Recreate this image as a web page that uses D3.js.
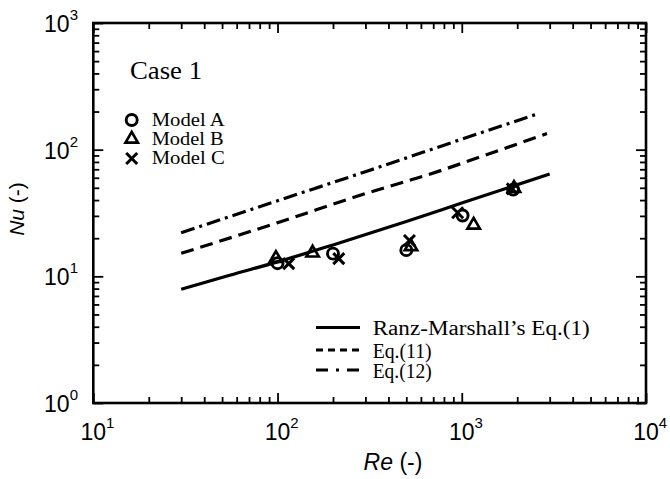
<!DOCTYPE html>
<html><head><meta charset="utf-8">
<script src="https://cdn.jsdelivr.net/npm/d3@7"></script>
<style>body{margin:0;background:#fff}</style>
</head><body><svg id="c" width="670" height="479"></svg>
<script>
// ---- data ----
const reMajor = [10, 100, 1000, 10000];
const reExp = ["1", "2", "3", "4"];
const nuMajor = [1, 10, 100, 1000];
const nuExp = ["0", "1", "2", "3"];

const ranzRe = [30, 55, 100, 200, 500, 1000, 3000];
const ranzNu = [7.9, 10.2, 13.0, 17.7, 27.1, 37.9, 64.2];
const eq11Re = [30, 100, 300, 760, 1000, 2900];
const eq11Nu = [15.2, 26.5, 45, 68, 78, 134];
const eq12Re = [30, 100, 300, 1000, 2530];
const eq12Nu = [22.1, 39.5, 67, 121, 190];

const modelARe = [100, 200, 500, 1010, 1900];
const modelANu = [12.7, 15.1, 16.1, 30.2, 48.4];
const modelBRe = [98, 155, 530, 1160, 1920];
const modelBNu = [13.9, 15.3, 17.2, 25.4, 49.6];
const modelCRe = [115, 215, 520, 950, 1880];
const modelCNu = [12.6, 13.8, 19.2, 31.8, 49];

const legendMarkers = ["Model A", "Model B", "Model C"];
const legendLines = ["Ranz-Marshall\u2019s Eq.(1)", "Eq.(11)", "Eq.(12)"];

// ---- layout ----
const L = 93.3, R = 646, T = 23, B = 403;
const svg = d3.select("#c");
const x = d3.scaleLog().domain([10, 1e4]).range([L, R]);
const y = d3.scaleLog().domain([1, 1000]).range([B, T]);
const sans = "'Liberation Sans', Arial, sans-serif";
const serif = "'Liberation Serif', 'Times New Roman', serif";

// ---- ticks ----
const xMinor = x.ticks().filter(v => !reMajor.includes(v));
const yMinor = y.ticks().filter(v => !nuMajor.includes(v));
function styleAxis(g){ g.select(".domain").remove(); g.selectAll(".tick line").attr("stroke","#000").attr("stroke-width",1.8); g.selectAll(".tick text").remove(); }
const axes = [
  [d3.axisBottom(x), `translate(0,${B})`, reMajor, xMinor],
  [d3.axisTop(x), `translate(0,${T})`, reMajor, xMinor],
  [d3.axisLeft(y), `translate(${L},0)`, nuMajor, yMinor],
  [d3.axisRight(y), `translate(${R},0)`, nuMajor, yMinor]
];
axes.forEach(([ax, tr, maj, min]) => {
  svg.append("g").attr("transform", tr).call(ax.tickValues(maj).tickSize(-10).tickFormat("")).call(styleAxis);
  svg.append("g").attr("transform", tr).call(ax.tickValues(min).tickSize(-6).tickFormat("")).call(styleAxis);
});

// frame
svg.append("rect").attr("x", L).attr("y", T).attr("width", R - L).attr("height", B - T)
  .attr("fill", "none").attr("stroke", "#000").attr("stroke-width", 2.6);

// tick labels
reMajor.forEach((v, i) => {
  const t = svg.append("text").attr("x", x(v) - 12.8).attr("y", 440)
    .attr("font-family", sans).attr("font-size", 23).text("10");
  t.append("tspan").attr("font-size", 15).attr("dy", -12).text(reExp[i]);
});
nuMajor.forEach((v, i) => {
  const t = svg.append("text").attr("x", 78).attr("y", y(v) + 9).attr("text-anchor", "end")
    .attr("font-family", sans).attr("font-size", 23).text("10");
  t.append("tspan").attr("font-size", 15).attr("dy", -12).text(nuExp[i]);
});

// axis titles
const xt = svg.append("text").attr("x", 393).attr("y", 470).attr("text-anchor", "middle")
  .attr("font-family", sans).attr("font-size", 23);
xt.append("tspan").attr("font-style", "italic").text("Re");
xt.append("tspan").text(" (-)");
const yt = svg.append("text").attr("transform", "translate(24,209) rotate(-90)").attr("text-anchor", "middle")
  .attr("font-family", sans).attr("font-size", 21);
yt.append("tspan").attr("font-style", "italic").text("Nu");
yt.append("tspan").text(" (-)");

// ---- lines ----
const line = d3.line().x(d => x(d[0])).y(d => y(d[1])).curve(d3.curveMonotoneX);
const series = [
  [ranzRe, ranzNu, null],
  [eq11Re, eq11Nu, "13,7"],
  [eq12Re, eq12Nu, "14,5,3,5"]
];
series.forEach(([xs, ys, dash]) => {
  svg.append("path").datum(xs.map((v, i) => [v, ys[i]])).attr("d", line)
    .attr("fill", "none").attr("stroke", "#000").attr("stroke-width", 3.2)
    .attr("stroke-dasharray", dash);
});

// ---- markers ----
const tri = d3.symbol().type(d3.symbolTriangle).size(66);
function circleM(g, px, py){ g.append("circle").attr("cx", px).attr("cy", py).attr("r", 5.5).attr("fill","none").attr("stroke","#000").attr("stroke-width",2.9); }
function triM(g, px, py){ g.append("path").attr("d", tri()).attr("transform", `translate(${px},${py})`).attr("fill","none").attr("stroke","#000").attr("stroke-width",2.7).attr("stroke-linejoin","miter"); }
function crossM(g, px, py){ const s = 5.5; g.append("path").attr("d", `M${px-s},${py-s}L${px+s},${py+s}M${px-s},${py+s}L${px+s},${py-s}`).attr("stroke","#000").attr("stroke-width",3).attr("fill","none"); }
const mg = svg.append("g");
modelARe.forEach((v, i) => circleM(mg, x(v), y(modelANu[i])));
modelBRe.forEach((v, i) => triM(mg, x(v), y(modelBNu[i])));
modelCRe.forEach((v, i) => crossM(mg, x(v), y(modelCNu[i])));

// ---- annotations / legends ----
svg.append("text").attr("x", 130).attr("y", 79).attr("font-family", serif).attr("font-size", 26)
  .attr("textLength", 72).attr("lengthAdjust", "spacingAndGlyphs").text("Case 1");

const mk = [circleM, triM, crossM];
const mkY = [120, 139, 158.5];
const mkW = [73, 72, 73];
legendMarkers.forEach((name, i) => {
  mk[i](svg, 131.7, mkY[i]);
  svg.append("text").attr("x", 151.7).attr("y", mkY[i] + 5.5).attr("font-family", serif).attr("font-size", 18.5)
    .attr("textLength", mkW[i]).attr("lengthAdjust", "spacingAndGlyphs").text(name);
});

const lnY = [327.5, 350, 370];
const lnDash = [null, "7,5", "12,8,3,8"];
const lnW = [217, 59, 59];
legendLines.forEach((name, i) => {
  svg.append("line").attr("x1", 316).attr("x2", 360).attr("y1", lnY[i]).attr("y2", lnY[i])
    .attr("stroke", "#000").attr("stroke-width", 3).attr("stroke-dasharray", lnDash[i]);
  svg.append("text").attr("x", 372.7).attr("y", lnY[i] + 7.5).attr("font-family", serif).attr("font-size", 20)
    .attr("textLength", lnW[i]).attr("lengthAdjust", "spacingAndGlyphs").text(name);
});
</script></body></html>
